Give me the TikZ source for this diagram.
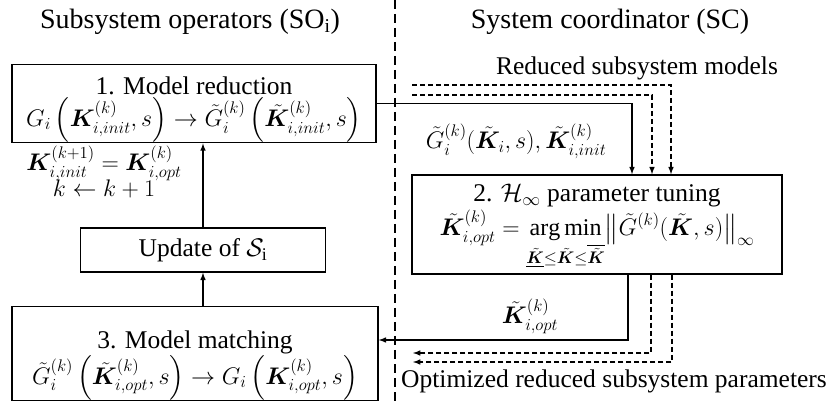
\RequirePackage{fix-cm}
\documentclass[tikz,border=0pt]{standalone}
\usepackage{amsmath,bm}
\usepackage{fontspec}
\setmainfont{Liberation Serif}

\tikzset{
	block/.style = {draw, line width=1.5pt, align=center, inner sep=0pt},
	heading/.style = {font=\fontsize{28}{33}\selectfont},
	flow/.style = {line width=1.5pt, ->},
	link/.style = {flow, dash pattern=on 5pt off 3pt},
	divider/.style = {line width=1.5pt, dash pattern=on 9pt off 5pt}
}

\newcommand{\Kt}{\tilde{\bm{K}}}
\newcommand{\Gt}{\tilde{G}}
\newcommand{\eqsize}{\fontsize{24}{29}\selectfont}
\newcommand{\lift}[1]{\rule{0pt}{#1}}

\begin{document}
\begin{tikzpicture}[>=latex, x=1pt, y=-1pt, font=\fontsize{25.5}{31}\selectfont]
					\useasboundingbox (0,0) rectangle (830,403);

					% Headings and the dashed border between both sides
						\node [heading] (soTitle) at (190,22) {Subsystem operators (SO\textsubscript{i})};
						\node [heading] (scTitle) at (610,22) {System coordinator (SC)};
						\draw [divider] (395,0) -- (395,403);

					% Subsystem operator steps
						\node [block, minimum width=364pt, minimum height=77pt] (reduction) at (194,103.5)
							{\lift{30pt}1. Model reduction\\[1pt]
							{\eqsize $G_i\left(\bm{K}_{i,init}^{(k)}, s\right) \rightarrow \Gt_i^{(k)}\left(\Kt_{i,init}^{(k)}, s\right)$}};
						\node [block, minimum width=245pt, minimum height=44pt] (update) at (203,250)
							{Update of $\mathcal{S}_\mathrm{i}$};
						\node [block, minimum width=366pt, minimum height=89pt] (matching) at (195,353.5)
							{\lift{42pt}3. Model matching\\[1pt]
							{\eqsize $\Gt_i^{(k)}\left(\Kt_{i,opt}^{(k)}, s\right) \rightarrow G_i\left(\bm{K}_{i,opt}^{(k)}, s\right)$}};
						\node [align=center] (iterLbl) at (104,172)
							{\eqsize $\bm{K}_{i,init}^{(k+1)} = \bm{K}_{i,opt}^{(k)}$\\[-5pt] \eqsize $k \leftarrow k+1$};

					% System coordinator step
						\node [block, minimum width=370pt, minimum height=99pt] (tuning) at (597,224.5)
							{\lift{22pt}2. $\mathcal{H}_\infty$ parameter tuning\\[3pt]
							{\eqsize $\displaystyle \Kt_{i,opt}^{(k)} = \operatorname*{arg\,min}_{\underline{\Kt} \le \Kt \le \overline{\Kt}} \bigl\| \Gt^{(k)}(\Kt, s) \bigr\|_\infty$}};

					% Loop inside the subsystem operator
						\draw [flow] (matching.north -| update.north) -- (update.south);
						\draw [flow] (update.north) -- (update.north |- reduction.south);

					% Exchange between operators and coordinator
						\draw [flow] (reduction.east) -| ([xshift=35pt]tuning.north);
						\node (redLbl) at (516,141) {\eqsize $\Gt_i^{(k)}(\Kt_i, s), \Kt_{i,init}^{(k)}$};
						\draw [flow] ([xshift=31pt]tuning.south) |- ([yshift=13.5pt]matching.east);
						\node (optLbl) at (530,316) {\eqsize $\Kt_{i,opt}^{(k)}$};

					% Models and parameters of the other subsystems
						\foreach \n/\y/\dx in {1/85/74, 2/95/55} {
							\coordinate (rsm\n) at (412,\y);
							\draw [link] (rsm\n) -| ([xshift=\dx pt]tuning.north);
							}
						\foreach \n/\y/\dx in {1/353/54, 2/362/75} {
							\coordinate (orp\n) at (413,\y);
							\draw [link] ([xshift=\dx pt]tuning.south) |- (orp\n);
							}
						\node (rsmLbl) at (637,68) {Reduced subsystem models};
						\node (orpLbl) at (614,381) {Optimized reduced subsystem parameters};

					\end{tikzpicture}
\end{document}
